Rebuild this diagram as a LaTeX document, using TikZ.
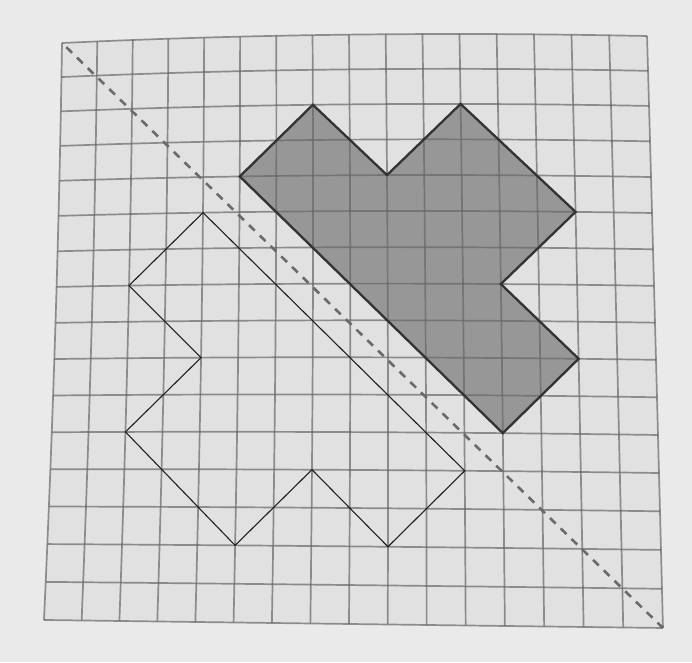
\documentclass[tikz,border=0pt]{standalone}
\begin{document}
\begin{tikzpicture}[x=1pt,y=-1pt]
\definecolor{bgcol}{HTML}{EAEAEA}
\definecolor{paper}{HTML}{E1E1E1}
\definecolor{gridcol}{HTML}{676767}
\definecolor{shadecol}{HTML}{979797}
\definecolor{edgecol}{HTML}{333333}
\definecolor{dashcol}{HTML}{6A6A6A}
\tikzset{
  gridline/.style={draw=gridcol,draw opacity=0.7,line width=1.7pt},
  diagline/.style={draw=dashcol,line width=2.6pt,dash pattern=on 8pt off 7pt,dash phase=-6pt},
  shadedshape/.style={fill=shadecol},
  shadededge/.style={draw=edgecol,line width=2.3pt,line join=miter},
  openshape/.style={draw=black!88,line width=1.1pt,line join=miter}
}
\useasboundingbox (0,0) rectangle (692,662);
\fill[bgcol] (0,0) rectangle (692,662);
% distorted grid coordinates (photo perspective)
\foreach \i in {0,...,16}{
  \foreach \j in {0,...,16}{
    \pgfmathsetmacro{\myu}{\i/16}
    \pgfmathsetmacro{\myv}{\j/16}
    \pgfmathsetmacro{\mytop}{62+35.19*\i+0.0859*\i*\i}
    \pgfmathsetmacro{\mybot}{44+37.56*\i+0.0703*\i*\i}
    \pgfmathsetmacro{\myleft}{43+33.90*\j+0.135*\j*\j}
    \pgfmathsetmacro{\myright}{36+34.67*\j+0.1455*\j*\j}
    \pgfmathsetmacro{\px}{(1-\myv)*\mytop+\myv*\mybot+10*\myv*(1-\myv)*(1-\myu)}
    \pgfmathsetmacro{\py}{(1-\myu)*\myleft+\myu*\myright-19.5*\myu*(1-\myu)*(1-\myv)}
    \coordinate (p-\i-\j) at (\px,\py);
  }
}
% paper inside grid
\fill[paper] (p-0-0) \foreach \i in {1,...,16}{ -- (p-\i-0)}
  \foreach \j in {1,...,16}{ -- (p-16-\j)}
  \foreach \i in {15,...,0}{ -- (p-\i-16)}
  \foreach \j in {15,...,1}{ -- (p-0-\j)} -- cycle;
% shaded shape fill
\fill[shadedshape] (p-5-4) -- (p-7-2) -- (p-9-4) -- (p-11-2) -- (p-14-5)
  -- (p-12-7) -- (p-14-9) -- (p-12-11) -- cycle;
% grid lines
\foreach \i in {0,...,16}{
  \draw[gridline] (p-\i-0) \foreach \j in {1,...,16}{ -- (p-\i-\j)};
}
\foreach \j in {0,...,16}{
  \draw[gridline] (p-0-\j) \foreach \i in {1,...,16}{ -- (p-\i-\j)};
}
% mirror line
\draw[diagline] (p-0-0) -- (p-16-16);
% shaded shape outline
\draw[shadededge] (p-5-4) -- (p-7-2) -- (p-9-4) -- (p-11-2) -- (p-14-5)
  -- (p-12-7) -- (p-14-9) -- (p-12-11) -- cycle;
% reflected shape
\draw[openshape] (p-4-5) -- (p-2-7) -- (p-4-9) -- (p-2-11) -- (p-5-14)
  -- (p-7-12) -- (p-9-14) -- (p-11-12) -- cycle;
\end{tikzpicture}
\end{document}
